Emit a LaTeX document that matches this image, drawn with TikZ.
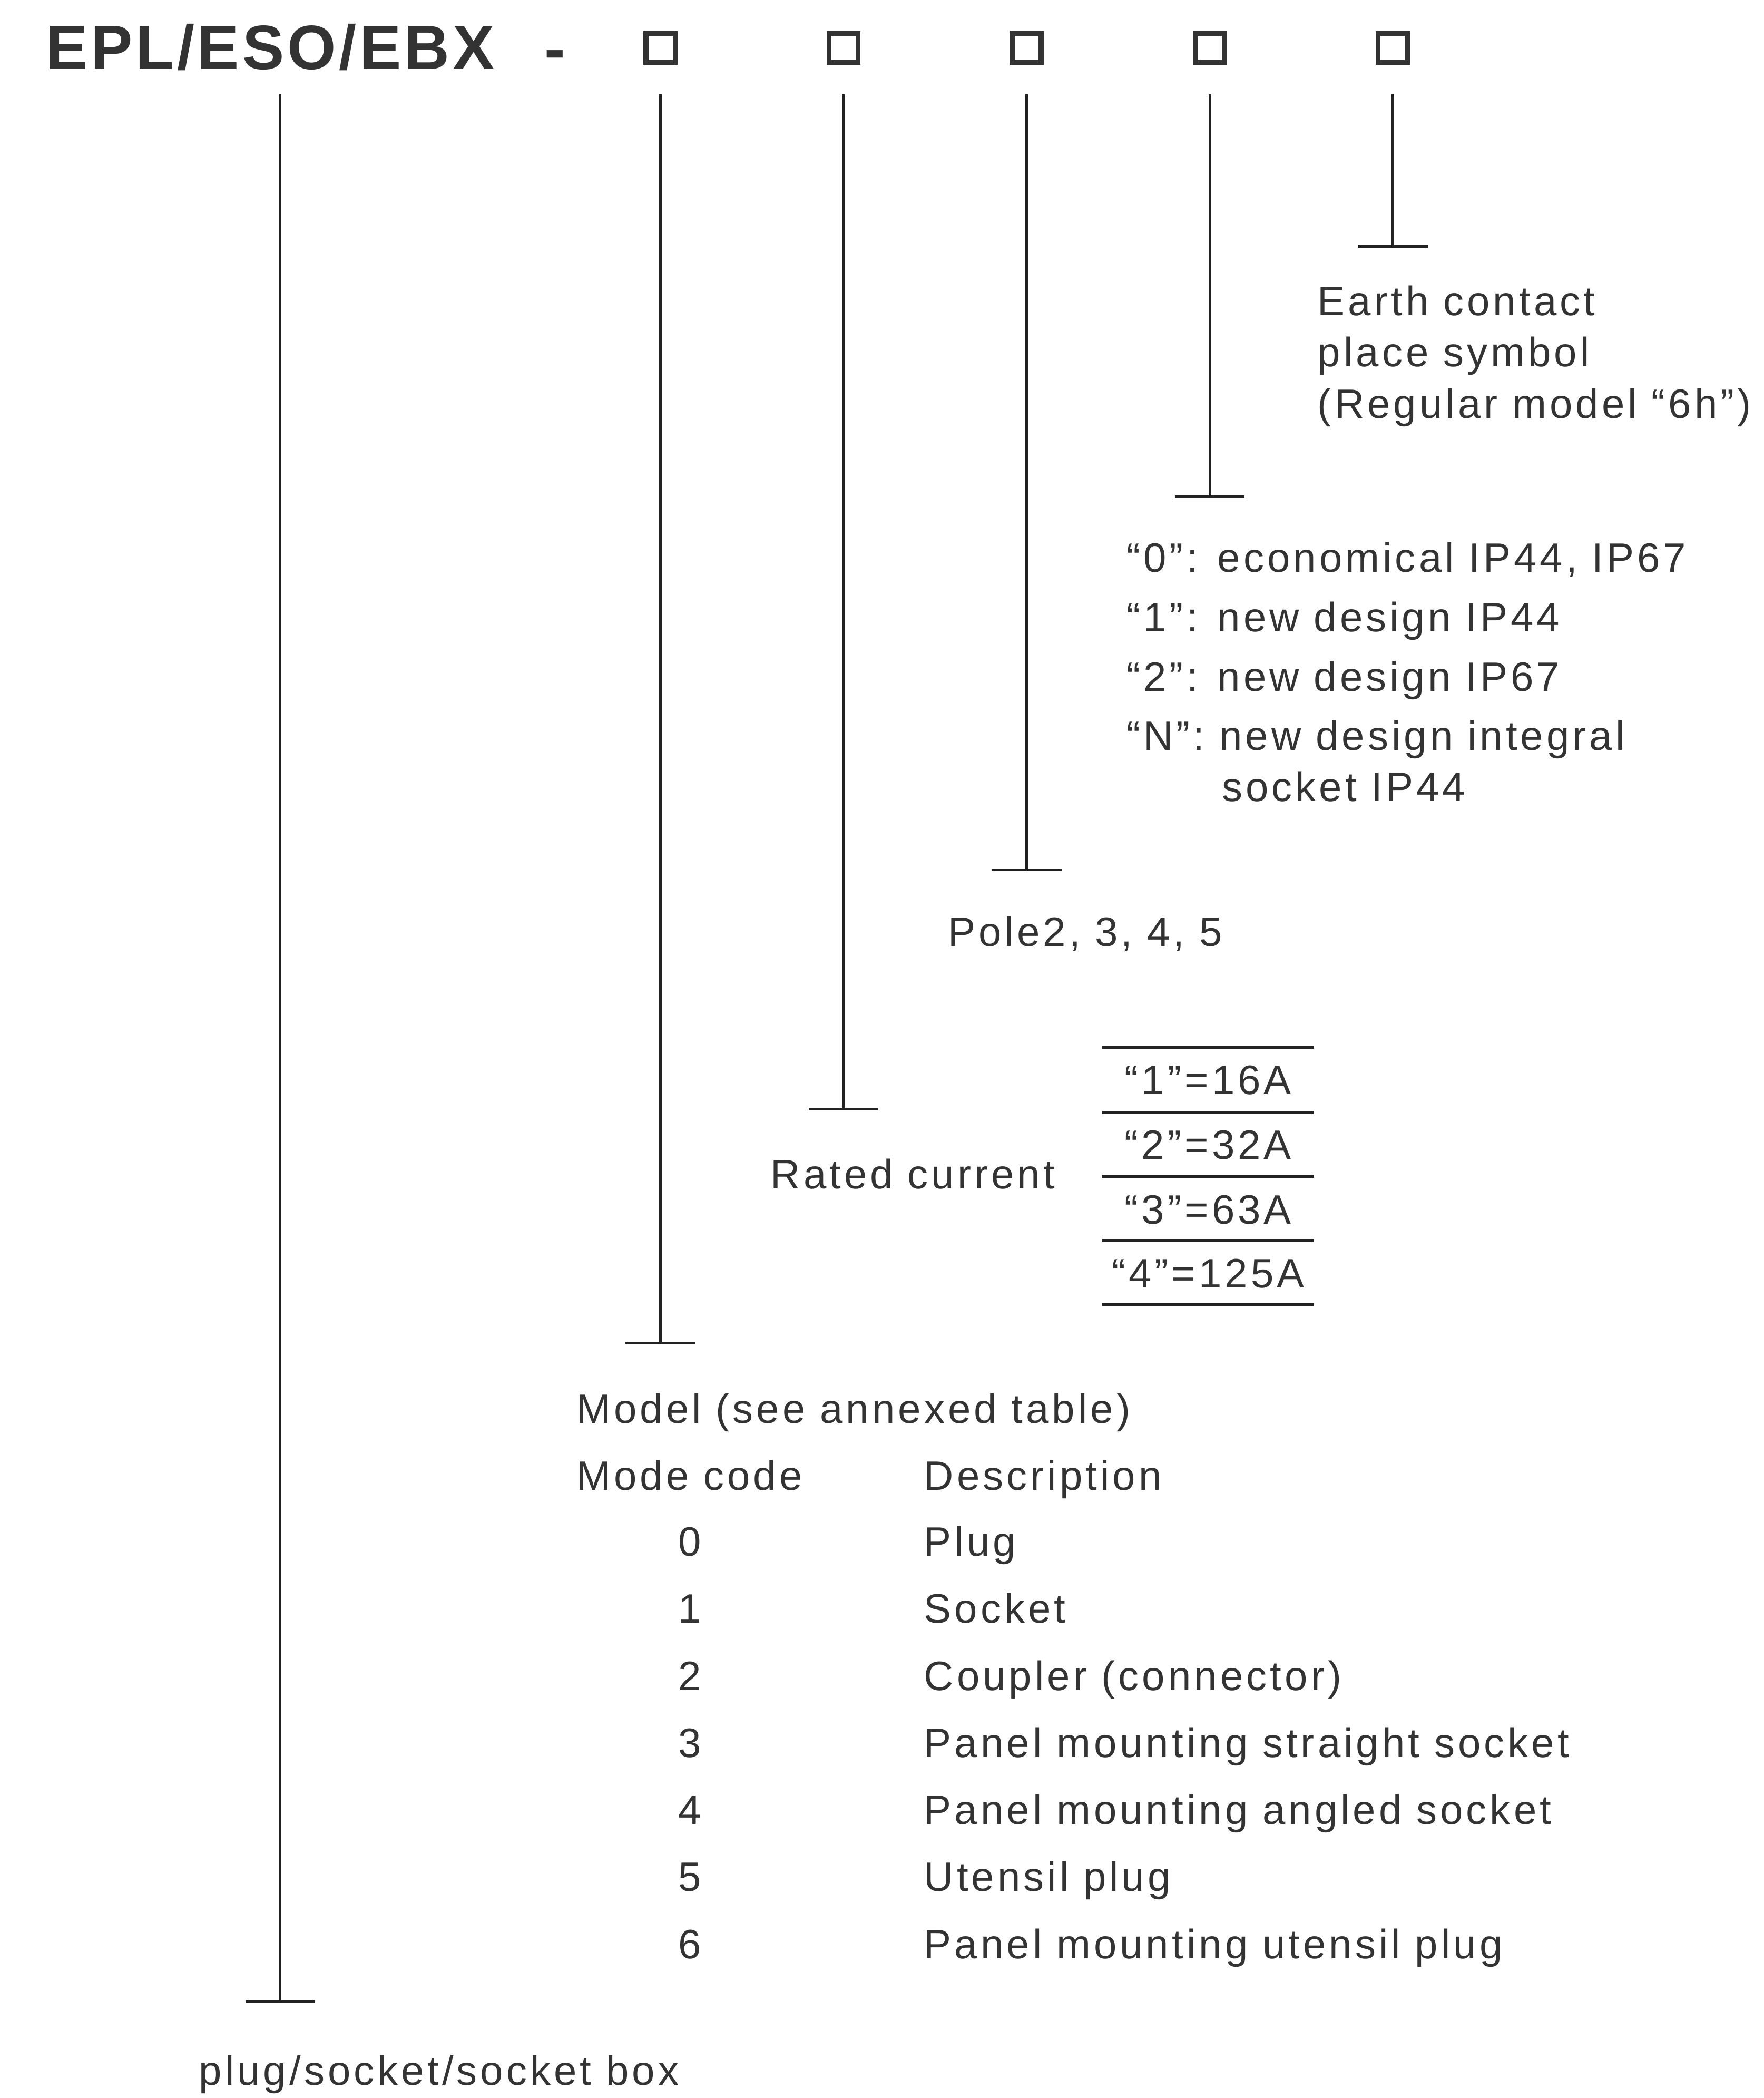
\documentclass[tikz,border=0pt]{standalone}
\usepackage{fontspec}
\setmainfont{Liberation Sans}
\newfontfamily\bodyf{Liberation Sans}[LetterSpace=7.8]
\newfontfamily\titlef{Liberation Sans}[LetterSpace=4.9]
\definecolor{txt}{RGB}{51,51,51}
\definecolor{ln}{RGB}{34,34,34}
\begin{document}
\begin{tikzpicture}[x=1pt,y=-1pt,
  txtnode/.style={inner sep=0pt,outer sep=0pt,text=txt,font=\bodyf\fontsize{30.7}{36}\selectfont},
  lbl/.style={txtnode,anchor=base west},
  ctr/.style={txtnode,anchor=base},
  titlestyle/.style={inner sep=0pt,outer sep=0pt,text=txt,font=\titlef\bfseries\fontsize{46.8}{56}\selectfont},
  sq/.style={draw=txt,line width=3.7pt,minimum width=21.8pt,minimum height=21.5pt,inner sep=0pt,outer sep=0pt},
  stem/.style={draw=ln,line width=1.7pt},
  rulestyle/.style={draw=ln,line width=2.4pt}]
\fill[white] (0,0) rectangle (1317.7,1567.3);
\useasboundingbox (0,0) rectangle (1317.7,1567.3);

% title
\node[titlestyle,anchor=base west] (title) at (34.4,51.8) {EPL/ESO/EBX};
\node[titlestyle,anchor=base] (dash) at (414.8,52.5) {-};
\node[sq] (s1) at (493.5,35.8) {};
\node[sq] (s2) at (630.3,35.8) {};
\node[sq] (s3) at (767.1,35.8) {};
\node[sq] (s4) at (903.9,35.8) {};
\node[sq] (s5) at (1040.7,35.8) {};

% stems
\coordinate (top0) at (209.4,70.5);  \coordinate (end0) at (209.4,1495);
\coordinate (top1) at (493.5,70.5);  \coordinate (end1) at (493.5,1003);
\coordinate (top2) at (630.3,70.5);  \coordinate (end2) at (630.3,828.5);
\coordinate (top3) at (767.1,70.5);  \coordinate (end3) at (767.1,650);
\coordinate (top4) at (903.9,70.5);  \coordinate (end4) at (903.9,371);
\coordinate (top5) at (1040.7,70.5); \coordinate (end5) at (1040.7,184);
\foreach \i in {0,...,5}{
  \draw[stem] (top\i) -- (end\i);
  \draw[stem] ([xshift=-26pt]end\i) -- ([xshift=26pt]end\i);
}

% earth contact
\node[lbl] (e1) at (984.6,235.5) {Earth contact};
\node[lbl] (e2) at (984.6,274) {place symbol};
\node[lbl] (e3) at (984.6,312.5) {(Regular model “6h”)};

% design
\node[lbl] (d0) at (841.9,427.5) {“0”: economical IP44, IP67};
\node[lbl] (d1) at (841.9,472) {“1”: new design IP44};
\node[lbl] (d2) at (841.9,516.5) {“2”: new design IP67};
\node[lbl] (dn) at (841.9,560.5) {“N”: new design integral};
\node[lbl] (dn2) at (913,598.5) {socket IP44};

% poles
\node[lbl] (pole) at (708.4,706.8) {Pole2, 3, 4, 5};

% rated current table
\foreach \yy in {782.3,831,878.8,926.8,974.8}{
  \draw[rulestyle] (823.6,\yy) -- (981.9,\yy);
}
\node[ctr] (r1) at (902.7,817.4) {“1”=16A};
\node[ctr] (r2) at (902.7,866) {“2”=32A};
\node[ctr] (r3) at (902.7,914.2) {“3”=63A};
\node[ctr] (r4) at (902.7,962) {“4”=125A};
\node[lbl] (rated) at (575.9,887.8) {Rated current};

% model table
\node[lbl] (model) at (430.8,1063) {Model (see annexed table)};
\node[lbl] (mcode) at (430.8,1113) {Mode code};
\node[lbl] (mdesc) at (690.4,1113) {Description};
\node[ctr] (n0) at (515.5,1162.4) {0};
\node[lbl] (t0) at (690.4,1162.4) {Plug};
\node[ctr] (n1) at (515.5,1212.5) {1};
\node[lbl] (t1) at (690.4,1212.5) {Socket};
\node[ctr] (n2) at (515.5,1262.6) {2};
\node[lbl] (t2) at (690.4,1262.6) {Coupler (connector)};
\node[ctr] (n3) at (515.5,1312.7) {3};
\node[lbl] (t3) at (690.4,1312.7) {Panel mounting straight socket};
\node[ctr] (n4) at (515.5,1362.8) {4};
\node[lbl] (t4) at (690.4,1362.8) {Panel mounting angled socket};
\node[ctr] (n5) at (515.5,1412.9) {5};
\node[lbl] (t5) at (690.4,1412.9) {Utensil plug};
\node[ctr] (n6) at (515.5,1463) {6};
\node[lbl] (t6) at (690.4,1463) {Panel mounting utensil plug};

% bottom
\node[lbl] (plug) at (148.7,1557.6) {plug/socket/socket box};
\end{tikzpicture}
\end{document}
